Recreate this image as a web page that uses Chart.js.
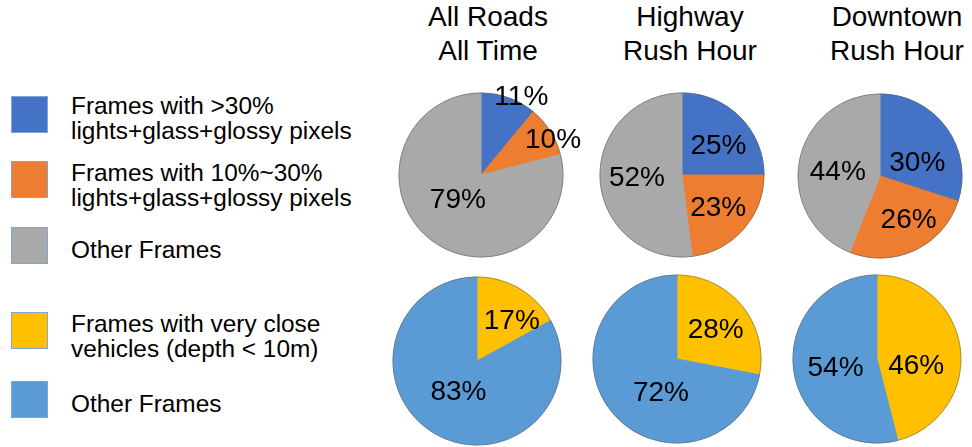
<!DOCTYPE html>
<html>
<head>
<meta charset="utf-8">
<script src="https://cdn.jsdelivr.net/npm/chart.js@4.4.1/dist/chart.umd.min.js"></script>
<style>
  html, body { margin: 0; padding: 0; background: #fff; }
  body { width: 972px; height: 447px; position: relative; overflow: hidden;
         font-family: "Liberation Sans", Arial, Helvetica, sans-serif; color: #000; }
  canvas { position: absolute; }
  .title { position: absolute; top: 0; width: 220px; text-align: center;
           font-size: 28px; line-height: 34px; }
  .box { position: absolute; left: 11px; width: 35px; height: 35px; border: 1px solid #7fa6da; }
  .item { position: absolute; left: 71px; font-size: 24.4px; line-height: 25px; white-space: nowrap; }
</style>
</head>
<body>
<script>
// titles of the three columns
const scenes = [['All Roads', 'All Time'], ['Highway', 'Rush Hour'], ['Downtown', 'Rush Hour']];

// top row: share of frames by lights+glass+glossy pixels (%)
const glossyLabels = ['Frames with >30%\nlights+glass+glossy pixels',
                      'Frames with 10%~30%\nlights+glass+glossy pixels',
                      'Other Frames'];
const glossyAllRoads = [11, 10, 79];
const glossyHighway  = [25, 23, 52];
const glossyDowntown = [30, 26, 44];

// bottom row: share of frames with very close vehicles (%)
const closeLabels = ['Frames with very close\nvehicles (depth < 10m)', 'Other Frames'];
const closeAllRoads = [17, 83];
const closeHighway  = [28, 72];
const closeDowntown = [46, 54];

const glossyColors = ['#4472C4', '#ED7D31', '#A9A9A9'];
const closeColors  = ['#FFC000', '#5B9BD5'];

// --- layout (page positions) ---
const colTitleX = [488, 690, 897];
const topCenters = [[481, 175], [682, 175], [880, 176]];
const botCenters = [[477, 361], [677, 359], [877, 359]];

// label placement: [fraction of radius, angle shift in degrees] per slice
const topPlace = [
  [[1.09, 7], [0.99, 5], [0.40, 7]],
  [[0.58, 5], [0.58, -1], [0.55, 2]],
  [[0.49, 14], [0.62, -9], [0.52, -3]]
];
const botPlace = [
  [[0.65, 9], [0.41, 2]],
  [[0.59, 1], [0.43, -24]],
  [[0.47, 14], [0.50, -2]]
];

// legend (HTML)
const legendTops = [96, 161, 227, 312, 381];
const legendTextTops = [93, 160, 237, 311, 391];
const legendLabels = glossyLabels.concat(closeLabels);
const legendColors = glossyColors.concat(closeColors);
legendLabels.forEach((txt, i) => {
  const b = document.createElement('div');
  b.className = 'box';
  b.style.top = legendTops[i] + 'px';
  b.style.background = legendColors[i];
  document.body.appendChild(b);
  const t = document.createElement('div');
  t.className = 'item';
  t.style.top = legendTextTops[i] + 'px';
  t.innerHTML = txt.split('\n').join('<br>');
  document.body.appendChild(t);
});

scenes.forEach((lines, i) => {
  const d = document.createElement('div');
  d.className = 'title';
  d.style.left = (colTitleX[i] - 110) + 'px';
  d.innerHTML = lines.join('<br>');
  document.body.appendChild(d);
});

// percent labels + thin outline round each pie
const pctLabels = {
  id: 'pctLabels',
  afterDatasetsDraw(chart, args, opts) {
    const ctx = chart.ctx;
    const meta = chart.getDatasetMeta(0);
    const values = chart.data.datasets[0].data;
    const first = meta.data[0];
    ctx.save();
    ctx.beginPath();
    ctx.arc(first.x, first.y, first.outerRadius, 0, Math.PI * 2);
    ctx.strokeStyle = 'rgba(100,100,100,0.55)';
    ctx.lineWidth = 1;
    ctx.stroke();

    ctx.font = '28px "Liberation Sans", Arial, sans-serif';
    ctx.fillStyle = '#000';
    ctx.textAlign = 'center';
    ctx.textBaseline = 'alphabetic';
    meta.data.forEach((arc, k) => {
      const p = opts.place[k];
      const a = (arc.startAngle + arc.endAngle) / 2 + p[1] * Math.PI / 180;
      const r = arc.outerRadius * p[0];
      ctx.fillText(values[k] + '%', arc.x + Math.cos(a) * r, arc.y + Math.sin(a) * r + 10);
    });
    ctx.restore();
  }
};

function makePie(center, radius, labels, values, colors, place) {
  const W = 240, H = 220;
  const canvas = document.createElement('canvas');
  canvas.width = W;
  canvas.height = H;
  canvas.style.left = (center[0] - W / 2) + 'px';
  canvas.style.top = (center[1] - H / 2) + 'px';
  canvas.style.width = W + 'px';
  canvas.style.height = H + 'px';
  document.body.appendChild(canvas);

  new Chart(canvas, {
    type: 'pie',
    data: {
      labels: labels,
      datasets: [{
        data: values,
        backgroundColor: colors,
        borderColor: colors,
        borderWidth: 1
      }]
    },
    options: {
      responsive: false,
      animation: false,
      radius: radius,
      layout: { padding: 0 },
      plugins: {
        legend: { display: false },
        tooltip: { enabled: false },
        pctLabels: { place: place }
      }
    },
    plugins: [pctLabels]
  });
}

makePie(topCenters[0], 82, glossyLabels, glossyAllRoads, glossyColors, topPlace[0]);
makePie(topCenters[1], 82, glossyLabels, glossyHighway, glossyColors, topPlace[1]);
makePie(topCenters[2], 82, glossyLabels, glossyDowntown, glossyColors, topPlace[2]);
makePie(botCenters[0], 84, closeLabels, closeAllRoads, closeColors, botPlace[0]);
makePie(botCenters[1], 84, closeLabels, closeHighway, closeColors, botPlace[1]);
makePie(botCenters[2], 84, closeLabels, closeDowntown, closeColors, botPlace[2]);
</script>
</body>
</html>
